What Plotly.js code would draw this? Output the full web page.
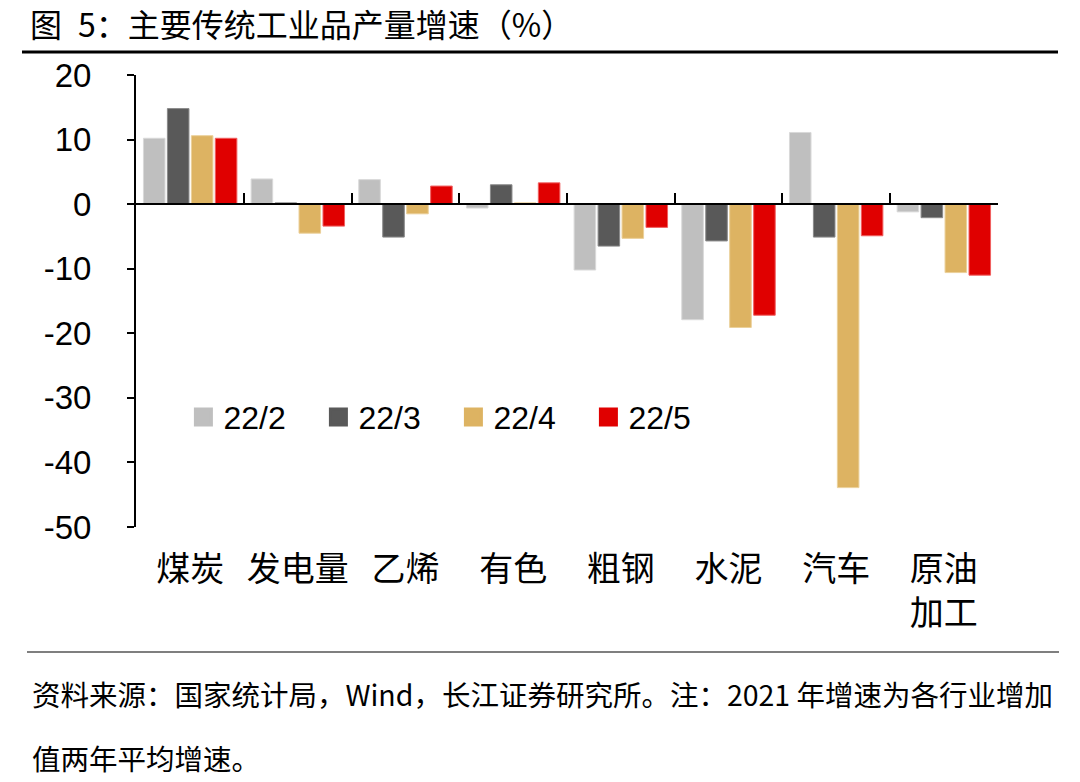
<!DOCTYPE html>
<html>
<head>
<meta charset="utf-8">
<script src="https://cdn.plot.ly/plotly-3.0.1.min.js"></script>
<style>
  html, body { margin: 0; padding: 0; background: #ffffff; }
  #chart { width: 1080px; height: 782px; }
</style>
</head>
<body>
<div id="chart"></div>
<script>
// ---- Data ----
const categories = ["煤炭", "发电量", "乙烯", "有色", "粗钢", "水泥", "汽车", "原油<br>加工"];
const seriesNames = ["22/2", "22/3", "22/4", "22/5"];
const s22_2 = [10.2, 3.9, 3.8, -0.6, -10.2, -17.9, 11.1, -1.2];
const s22_3 = [14.8, 0.2, -5.1, 3.0, -6.5, -5.7, -5.1, -2.1];
const s22_4 = [10.6, -4.5, -1.5, 0.2, -5.3, -19.1, -43.9, -10.6];
const s22_5 = [10.2, -3.4, 2.8, 3.3, -3.6, -17.2, -4.9, -11.0];
const yTickVals = [20, 10, 0, -10, -20, -30, -40, -50];

const titleText = "图\u20025：主要传统工业品产量增速（%）";
const footer1 = "资料来源：国家统计局，Wind，长江证券研究所。注：2021 年增速为各行业增加";
const footer2 = "值两年平均增速。";

// ---- Styles ----
const colors = ["#BFBFBF", "#595959", "#DDB362", "#E00000"];
const lineColors = ["#D9D9D9", "#8A8A8A", "#EBD09A", "#F06060"];
const FONT = "Liberation Sans, Arial, Noto Sans CJK SC, sans-serif";
const CJK = "Noto Sans CJK SC, Liberation Sans, sans-serif";
const XR = [-0.503, 7.503];

const allSeries = [s22_2, s22_3, s22_4, s22_5];
const traces = allSeries.map((vals, i) => ({
  type: "bar",
  name: seriesNames[i],
  x: categories,
  y: vals,
  legendgroup: seriesNames[i],
  showlegend: false,
  marker: { color: colors[i], line: { color: lineColors[i], width: 1 } },
  hoverinfo: "x+y+name"
}));

// legend entries (square swatches) for the bar series
seriesNames.forEach((nm, i) => {
  traces.push({
    type: "scatter",
    mode: "markers",
    name: nm,
    legendgroup: nm,
    x: [categories[0]],
    y: [null],
    marker: { symbol: "square", size: 16, color: colors[i], line: { color: colors[i], width: 3 } },
    showlegend: true,
    hoverinfo: "skip"
  });
});

// helper trace to carry the boundary-tick axis at zero
traces.push({
  type: "scatter",
  mode: "markers",
  x: categories,
  y: categories.map(() => null),
  xaxis: "x2",
  yaxis: "y",
  showlegend: false,
  hoverinfo: "skip"
});

const layout = {
  width: 1080,
  height: 782,
  margin: { l: 136, r: 82, t: 75, b: 255 },
  paper_bgcolor: "#ffffff",
  plot_bgcolor: "#ffffff",
  font: { family: FONT, color: "#000000" },
  title: {
    text: titleText,
    font: { family: CJK, size: 32, color: "#000000" },
    x: 30 / 1080, xanchor: "left", xref: "container",
    y: 1 - 26 / 782, yanchor: "middle", yref: "container"
  },
  barmode: "group",
  bargap: 0.11,
  bargroupgap: 0.1,
  showlegend: true,
  legend: {
    orientation: "h",
    x: 0.055, xanchor: "left",
    y: 0.243, yanchor: "middle",
    font: { family: FONT, size: 32, color: "#000000" },
    entrywidth: 90, entrywidthmode: "pixels",
    itemsizing: "trace",
    bgcolor: "rgba(0,0,0,0)",
    traceorder: "normal"
  },
  xaxis: {
    type: "category",
    range: XR,
    showline: false,
    showgrid: false,
    zeroline: false,
    ticks: "",
    tickfont: { family: CJK, size: 34, color: "#000000" },
    ticklabelstandoff: 19,
    fixedrange: true
  },
  xaxis2: {
    type: "category",
    overlaying: "x",
    anchor: "free",
    position: 50 / 70,
    range: XR,
    showline: true,
    linecolor: "#000000",
    linewidth: 2,
    showgrid: false,
    zeroline: false,
    ticks: "inside",
    tickson: "boundaries",
    ticklen: 10,
    tickwidth: 2,
    tickcolor: "#000000",
    showticklabels: false,
    fixedrange: true
  },
  yaxis: {
    range: [-50, 20],
    tickvals: yTickVals,
    ticktext: yTickVals.map(String),
    showline: true,
    linecolor: "#000000",
    linewidth: 2,
    ticks: "outside",
    ticklen: 7,
    tickwidth: 2,
    tickcolor: "#000000",
    showgrid: false,
    zeroline: true,
    zerolinecolor: "#000000",
    zerolinewidth: 2,
    tickfont: { family: FONT, size: 33, color: "#000000" },
    ticklabelstandoff: 29,
    fixedrange: true
  },
  shapes: [
    { type: "line", xref: "paper", yref: "paper",
      x0: (22 - 136) / 862, x1: (1058 - 136) / 862,
      y0: (527 - 52) / 452, y1: (527 - 52) / 452,
      line: { color: "#000000", width: 3 } },
    { type: "line", xref: "paper", yref: "paper",
      x0: (27 - 136) / 862, x1: (1059 - 136) / 862,
      y0: (527 - 652) / 452, y1: (527 - 652) / 452,
      line: { color: "#000000", width: 1.2 } }
  ],
  annotations: [
    { text: footer1, xref: "paper", yref: "paper",
      x: (30 - 136) / 862, xanchor: "left",
      y: (527 - 693) / 452, yanchor: "middle",
      showarrow: false, font: { family: CJK, size: 28.5, color: "#000000" } },
    { text: footer2, xref: "paper", yref: "paper",
      x: (30 - 136) / 862, xanchor: "left",
      y: (527 - 757) / 452, yanchor: "middle",
      showarrow: false, font: { family: CJK, size: 28.5, color: "#000000" } }
  ]
};

Plotly.newPlot("chart", traces, layout, { displayModeBar: false, staticPlot: true });
</script>
</body>
</html>
